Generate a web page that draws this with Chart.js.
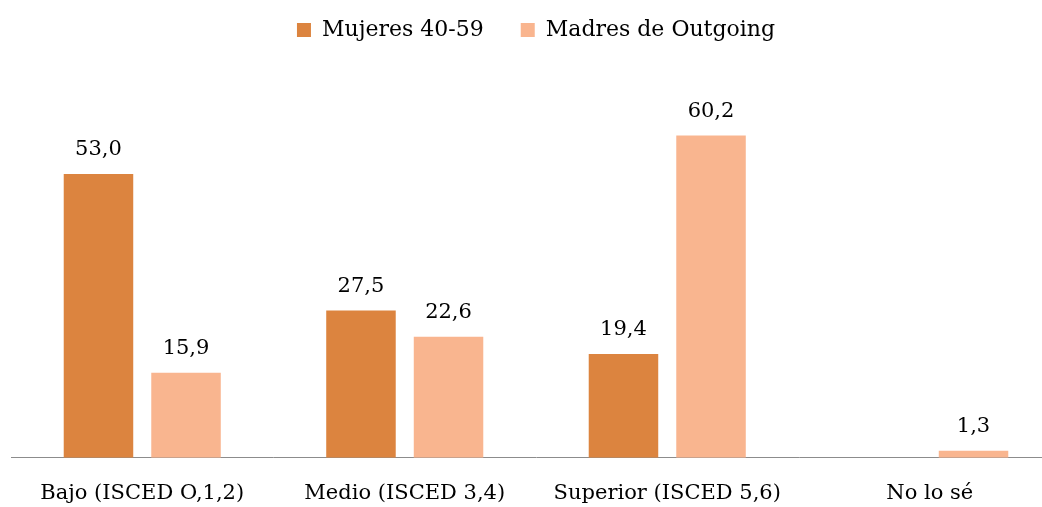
<!DOCTYPE html>
<html>
<head>
<meta charset="utf-8">
<script src="https://cdn.jsdelivr.net/npm/chart.js@4.4.0/dist/chart.umd.min.js"></script>
<style>
html,body{margin:0;padding:0;background:#fff;}
#wrap{width:1042px;height:507px;overflow:hidden;position:relative;}
#c{position:absolute;left:0;top:0;}
</style>
</head>
<body>
<div id="wrap"><canvas id="c" width="1062" height="507"></canvas></div>
<script>
const categories = ["Bajo (ISCED O,1,2)", "Medio (ISCED 3,4)", "Superior (ISCED 5,6)", "No lo sé"];
const seriesNames = ["Mujeres 40-59", "Madres de Outgoing"];
const mujeres = [53.0, 27.5, 19.4, null];
const madres = [15.9, 22.6, 60.2, 1.3];

const FONT = "'DejaVu Serif', serif";

const valueLabels = {
  id: 'valueLabels',
  afterDatasetsDraw(chart) {
    const ctx = chart.ctx;
    ctx.save();
    ctx.font = "21px " + FONT;
    ctx.fillStyle = "#000";
    ctx.textAlign = "center";
    ctx.textBaseline = "bottom";
    chart.data.datasets.forEach((ds, i) => {
      const meta = chart.getDatasetMeta(i);
      meta.data.forEach((bar, j) => {
        const v = ds.data[j];
        if (v === null || v === undefined) return;
        ctx.fillText(v.toFixed(1).replace('.', ','), bar.x, bar.y - 14);
      });
    });
    ctx.restore();
  }
};

new Chart(document.getElementById('c'), {
  type: 'bar',
  data: {
    labels: categories,
    datasets: [
      { label: seriesNames[0], data: mujeres, backgroundColor: '#DC843F' },
      { label: seriesNames[1], data: madres, backgroundColor: '#F9B58F' }
    ]
  },
  options: {
    responsive: false,
    animation: false,
    layout: { padding: { left: 11, right: 1, top: -18, bottom: -14 } },
    datasets: { bar: { categoryPercentage: 0.667, barPercentage: 0.794 } },
    plugins: {
      legend: {
        position: 'top',
        labels: {
          font: { family: FONT, size: 22 },
          color: '#000',
          boxWidth: 14,
          boxHeight: 14,
          padding: 37
        }
      },
      tooltip: { enabled: false }
    },
    scales: {
      x: {
        grid: { display: false },
        border: { display: true, color: '#8c8c8c', width: 1 },
        ticks: { font: { family: FONT, size: 21 }, color: '#000', padding: 15 }
      },
      y: {
        display: false,
        min: 0,
        max: 76
      }
    }
  },
  plugins: [valueLabels]
});
</script>
</body>
</html>
